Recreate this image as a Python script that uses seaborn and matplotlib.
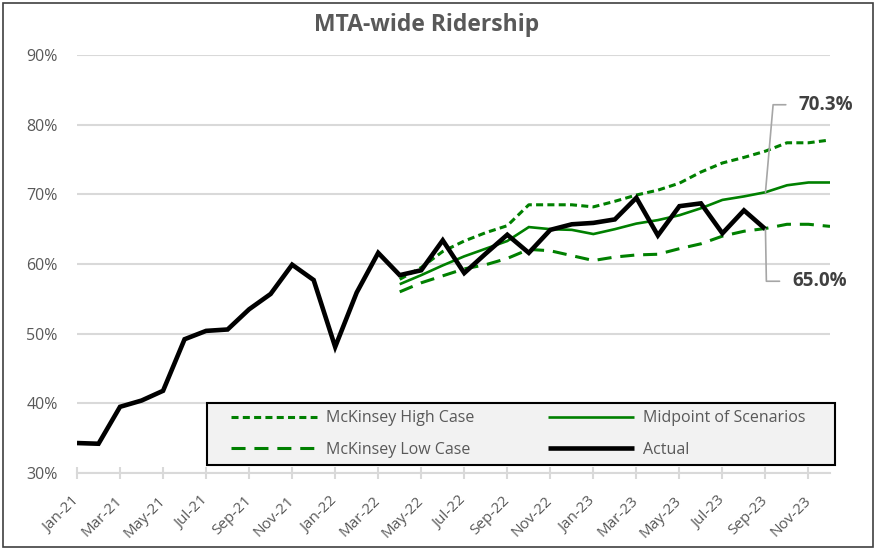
import numpy as np
import pandas as pd
import matplotlib
matplotlib.use("Agg")
import matplotlib.pyplot as plt
import seaborn as sns

# ---------------- data ----------------
months = ["Jan-21", "Feb-21", "Mar-21", "Apr-21", "May-21", "Jun-21", "Jul-21", "Aug-21",
          "Sep-21", "Oct-21", "Nov-21", "Dec-21", "Jan-22", "Feb-22", "Mar-22", "Apr-22",
          "May-22", "Jun-22", "Jul-22", "Aug-22", "Sep-22", "Oct-22", "Nov-22", "Dec-22",
          "Jan-23", "Feb-23", "Mar-23", "Apr-23", "May-23", "Jun-23", "Jul-23", "Aug-23",
          "Sep-23", "Oct-23", "Nov-23", "Dec-23"]

actual = [34.3, 34.2, 39.5, 40.4, 41.8, 49.2, 50.4, 50.6, 53.5, 55.7, 59.9, 57.7,
          48.1, 55.9, 61.6, 58.4, 59.1, 63.4, 58.7, 61.5, 64.2, 61.6, 64.9, 65.7,
          65.9, 66.4, 69.5, 64.1, 68.3, 68.7, 64.4, 67.7, 65.0]

# scenarios start Apr-22
scenario_start = "Apr-22"
high_case = [57.8, 59.5, 61.8, 63.3, 64.5, 65.5, 68.5, 68.5, 68.5, 68.2, 69.0,
             69.9, 70.6, 71.6, 73.2, 74.5, 75.3, 76.2, 77.4, 77.4, 77.8]
midpoint = [57.1, 58.4, 59.8, 61.1, 62.2, 63.3, 65.3, 65.0, 64.9, 64.3, 65.0,
            65.8, 66.3, 67.0, 68.0, 69.2, 69.7, 70.3, 71.3, 71.7, 71.7]
low_case = [56.0, 57.3, 58.3, 59.3, 59.9, 60.8, 62.1, 61.9, 61.2, 60.5, 61.0,
            61.3, 61.4, 62.2, 62.9, 64.0, 64.7, 65.1, 65.7, 65.7, 65.4]

y_ticks = [30, 40, 50, 60, 70, 80, 90]
label_month = "Sep-23"

# ---------------- frame ----------------
n = len(months)
idx = np.arange(n)
s0 = months.index(scenario_start)

def pad(vals, start):
    arr = np.full(n, np.nan)
    arr[start:start + len(vals)] = vals
    return arr

df = pd.DataFrame({
    "x": idx,
    "High": pad(high_case, s0),
    "Low": pad(low_case, s0),
    "Mid": pad(midpoint, s0),
    "Actual": pad(actual, 0),
})

sns.set_theme(style="white")
plt.rcParams["font.family"] = ["Open Sans", "DejaVu Sans"]

gray = "#595959"
green = "#008000"

fig = plt.figure(figsize=(8.75, 5.48), dpi=100)
ax = fig.add_axes([77 / 875, 1 - 473 / 548, (830 - 77) / 875, (473 - 55) / 548])

sns.lineplot(data=df, x="x", y="High", ax=ax, color=green, lw=2.2,
             label="McKinsey High Case")
sns.lineplot(data=df, x="x", y="Low", ax=ax, color=green, lw=2.2,
             label="McKinsey Low Case")
sns.lineplot(data=df, x="x", y="Mid", ax=ax, color=green, lw=1.9,
             label="Midpoint of Scenarios")
sns.lineplot(data=df, x="x", y="Actual", ax=ax, color="black", lw=3.3,
             label="Actual")

lines = ax.get_lines()
lines[0].set_dashes((2.3, 1.4))
lines[1].set_dashes((4.6, 2.9))
for ln in lines:
    ln.set_solid_joinstyle("miter")
    ln.set_solid_capstyle("butt")

ax.set_xlim(0, n - 1)
ax.set_ylim(30, 90)
ax.set_yticks(y_ticks)
ax.set_yticklabels([f"{v}%" for v in y_ticks])
ax.set_xticks(idx[::2])
ax.set_xticklabels(months[::2], rotation=45, ha="right", va="center",
                   rotation_mode="anchor")
ax.set_xlabel("")
ax.set_ylabel("")

ax.grid(axis="y", color="#d9d9d9", lw=1.5)
ax.set_axisbelow(True)
for sp in ["top", "right", "left"]:
    ax.spines[sp].set_visible(False)
ax.spines["bottom"].set_color("#d9d9d9")
ax.spines["bottom"].set_linewidth(1.5)
ax.tick_params(axis="x", direction="inout", length=9, width=1.5, color="#d9d9d9",
               labelsize=11, labelcolor=gray, pad=14, bottom=True)
ax.tick_params(axis="y", length=0, labelsize=11.5, labelcolor=gray, pad=14)

# legend box + legend
box = plt.Rectangle((0.1726, 0.0191), 0.834, 0.1483, transform=ax.transAxes,
                    facecolor="#f2f2f2", edgecolor="black", lw=1.5, zorder=4,
                    clip_on=False)
ax.add_patch(box)
leg = ax.legend(handles=lines[:4],
                labels=["McKinsey High Case", "McKinsey Low Case",
                        "Midpoint of Scenarios", "Actual"],
                loc="center left", bbox_to_anchor=((231 - 77) / 753, 0.0935),
                ncol=2, fontsize=11.5, frameon=False,
                handlelength=5.4, handletextpad=0.56, borderaxespad=0,
                labelspacing=0.98, borderpad=0, columnspacing=4.6)
leg.set_zorder(5)
for t in leg.get_texts():
    t.set_color(gray)

# data labels with leader lines
li = months.index(label_month)
mid_val = df["Mid"][li]
act_val = df["Actual"][li]
ax.annotate(f"{mid_val:.1f}%", xy=(li, mid_val), xytext=(24, 63),
            textcoords="offset points", ha="left", va="center",
            fontsize=13.5, fontweight="bold", color="#404040",
            arrowprops=dict(arrowstyle="-", color="#a6a6a6", lw=1.2,
                            connectionstyle="angle,angleA=0,angleB=85,rad=0",
                            relpos=(0, 0.5), shrinkA=7, shrinkB=0))
ax.annotate(f"{act_val:.1f}%", xy=(li, act_val), xytext=(19.5, -37.5),
            textcoords="offset points", ha="left", va="center",
            fontsize=13.5, fontweight="bold", color="#404040",
            arrowprops=dict(arrowstyle="-", color="#a6a6a6", lw=1.2,
                            connectionstyle="angle,angleA=0,angleB=-89,rad=0",
                            relpos=(0, 0.5), shrinkA=7, shrinkB=0))

fig.text(427 / 875, 1 - 25 / 548, "MTA-wide Ridership", ha="center", va="center",
         fontsize=16.5, fontweight="bold", color=gray)

border = plt.Rectangle((3 / 875, 1 / 548), 870 / 875, 544 / 548, transform=fig.transFigure,
                       fill=False, edgecolor="#404040", lw=1.2)
fig.patches.append(border)

fig.savefig("out.png", dpi=100)
